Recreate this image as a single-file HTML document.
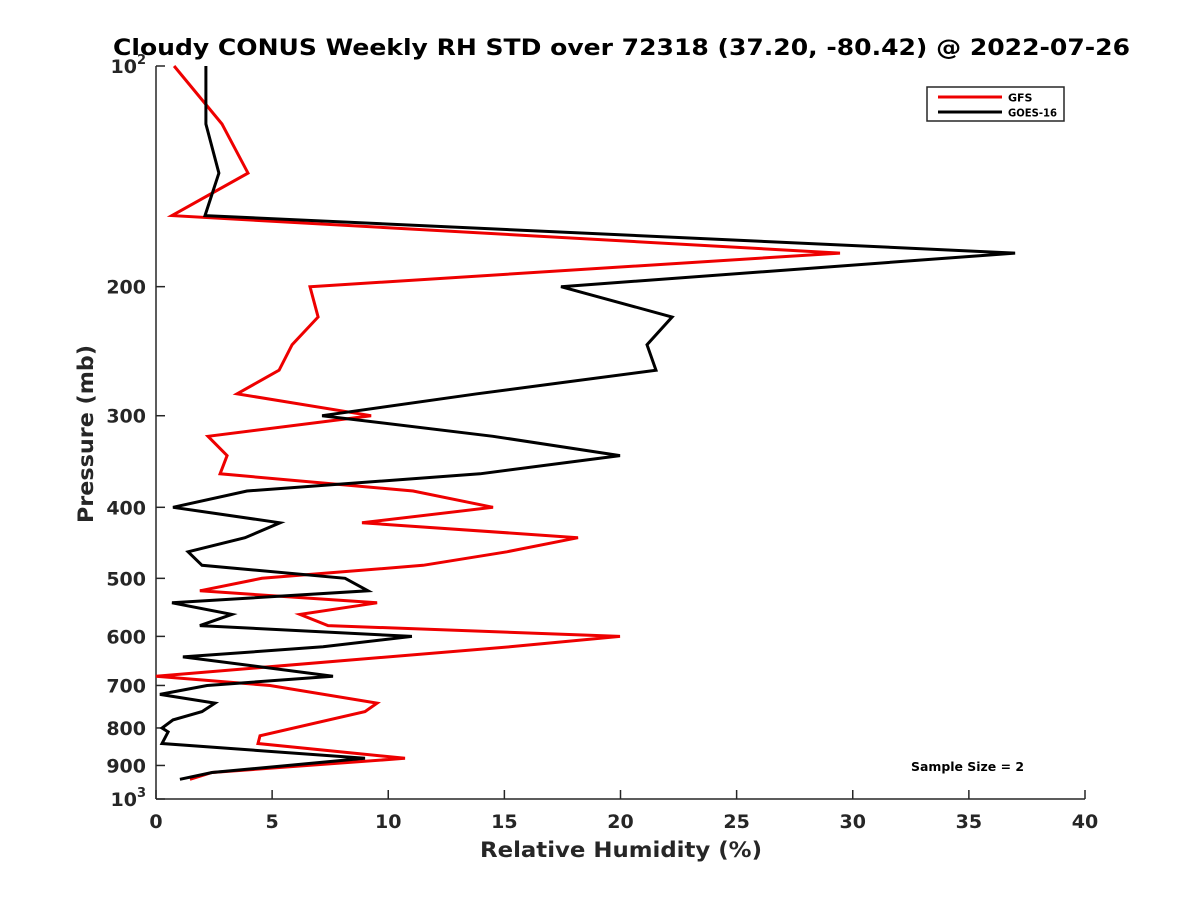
<!DOCTYPE html>
<html><head><meta charset="utf-8"><style>
body{margin:0;background:#fff}
svg text{font-family:"DejaVu Sans","Liberation Sans",sans-serif;font-weight:bold;fill:#262626}
</style></head><body>
<svg id="chart" width="1200" height="900" viewBox="0 0 1200 900" xmlns="http://www.w3.org/2000/svg">
<rect width="1200" height="900" fill="#fff"/>
<text x="113" y="55" font-size="22" textLength="1017" lengthAdjust="spacingAndGlyphs" style="fill:#000">Cloudy CONUS Weekly RH STD over 72318 (37.20, -80.42) @ 2022-07-26</text>
<g id="axes"></g>
<g id="series"></g>
<g>
<rect x="927" y="87" width="137" height="34" fill="#fff" stroke="#262626" stroke-width="1.5"/>
<line x1="938" y1="97" x2="1002" y2="97" stroke="#e00" stroke-width="3"/>
<text x="1008" y="101.5" font-size="11" style="fill:#000">GFS</text>
<line x1="938" y1="112" x2="1002" y2="112" stroke="#000" stroke-width="3"/>
<text x="1008" y="116.5" font-size="11" textLength="49" lengthAdjust="spacingAndGlyphs" style="fill:#000">GOES-16</text>
</g>
<text x="911" y="771" font-size="12" textLength="113" lengthAdjust="spacingAndGlyphs" style="fill:#000">Sample Size = 2</text>
<text x="480" y="857" font-size="21" textLength="282" lengthAdjust="spacingAndGlyphs">Relative Humidity (%)</text>
<text transform="translate(93,523) rotate(-90)" font-size="21" textLength="178" lengthAdjust="spacingAndGlyphs">Pressure (mb)</text>
</svg>
<script>
const xTicks=[0,5,10,15,20,25,30,35,40];
const yTicks=[100,200,300,400,500,600,700,800,900,1000];
const gfsPressure=[100,120,140,160,180,200,220,240,260,280,300,320,340,360,380,400,420,440,460,480,500,520,540,560,580,600,620,680,700,740,760,820,840,880,920,940];
const gfsValues=[0.78,2.84,3.96,0.69,29.45,6.63,6.98,5.86,5.30,3.49,9.26,2.24,3.06,2.76,11.07,14.51,8.87,18.17,15.11,11.50,4.56,1.89,9.52,6.20,7.41,19.98,15.24,0.0,4.91,9.52,9.0,4.48,4.39,10.72,2.41,1.46];
const goesPressure=[100,120,140,160,180,200,220,240,260,280,300,320,340,360,380,400,420,440,460,480,500,520,540,560,580,600,620,640,680,700,720,740,760,780,800,810,840,880,920,940];
const goesValues=[2.15,2.15,2.71,2.11,36.99,17.44,22.22,21.14,21.53,13.82,7.15,14.51,19.98,13.95,3.92,0.73,5.34,3.83,1.38,1.98,8.14,9.13,0.69,3.27,1.89,11.02,7.19,1.16,7.62,2.20,0.17,2.54,1.98,0.73,0.26,0.52,0.26,9.0,2.41,1.03];
const X0=156,X1=1085,Y0=66,Y1=799;
const xs=v=>X0+(v-0)/40*(X1-X0);
const ys=p=>Y0+(Math.log10(p)-2)*(Y1-Y0);
const NS='http://www.w3.org/2000/svg';
const ax=document.getElementById('axes');
function mk(t,a,parent){const e=document.createElementNS(NS,t);for(const k in a)e.setAttribute(k,a[k]);parent.appendChild(e);return e;}
const yl=mk('line',{x1:X0,y1:Y0,x2:X0,y2:Y1,stroke:'#262626','stroke-width':1.5},ax);


const xl=mk('line',{x1:X0,y1:Y1,x2:X1,y2:Y1,stroke:'#262626','stroke-width':1.5},ax);


xTicks.forEach(v=>{
  mk('line',{x1:xs(v),y1:Y1,x2:xs(v),y2:Y1-9,stroke:'#262626','stroke-width':1.5},ax);
  const t=mk('text',{x:xs(v),y:Y1+29,'text-anchor':'middle','font-size':19},ax);
  t.textContent=v;
  
  
});
yTicks.forEach(p=>{
  mk('line',{x1:X0,y1:ys(p),x2:X0+9,y2:ys(p),stroke:'#262626','stroke-width':1.5},ax);
  const t=mk('text',{x:X0-10,y:ys(p)+7,'text-anchor':'end','font-size':19},ax);
  if(p===100){t.innerHTML='10<tspan font-size="13" dy="-9">2</tspan>';}
  else if(p===1000){t.innerHTML='10<tspan font-size="13" dy="-9">3</tspan>';}
  else t.textContent=p;
  
  
});
const sg=document.getElementById('series');
function line(ps,vs,color,name){
  const d=ps.map((p,i)=>(i?'L':'M')+xs(vs[i]).toFixed(1)+','+ys(p).toFixed(1)).join('');
  const e=mk('path',{d:d,fill:'none',stroke:color,'stroke-width':3,'stroke-linejoin':'miter'},sg);
  
  
}
line(gfsPressure,gfsValues,'#e00','gfs-line');
line(goesPressure,goesValues,'#000','goes16-line');
</script>
</body></html>
